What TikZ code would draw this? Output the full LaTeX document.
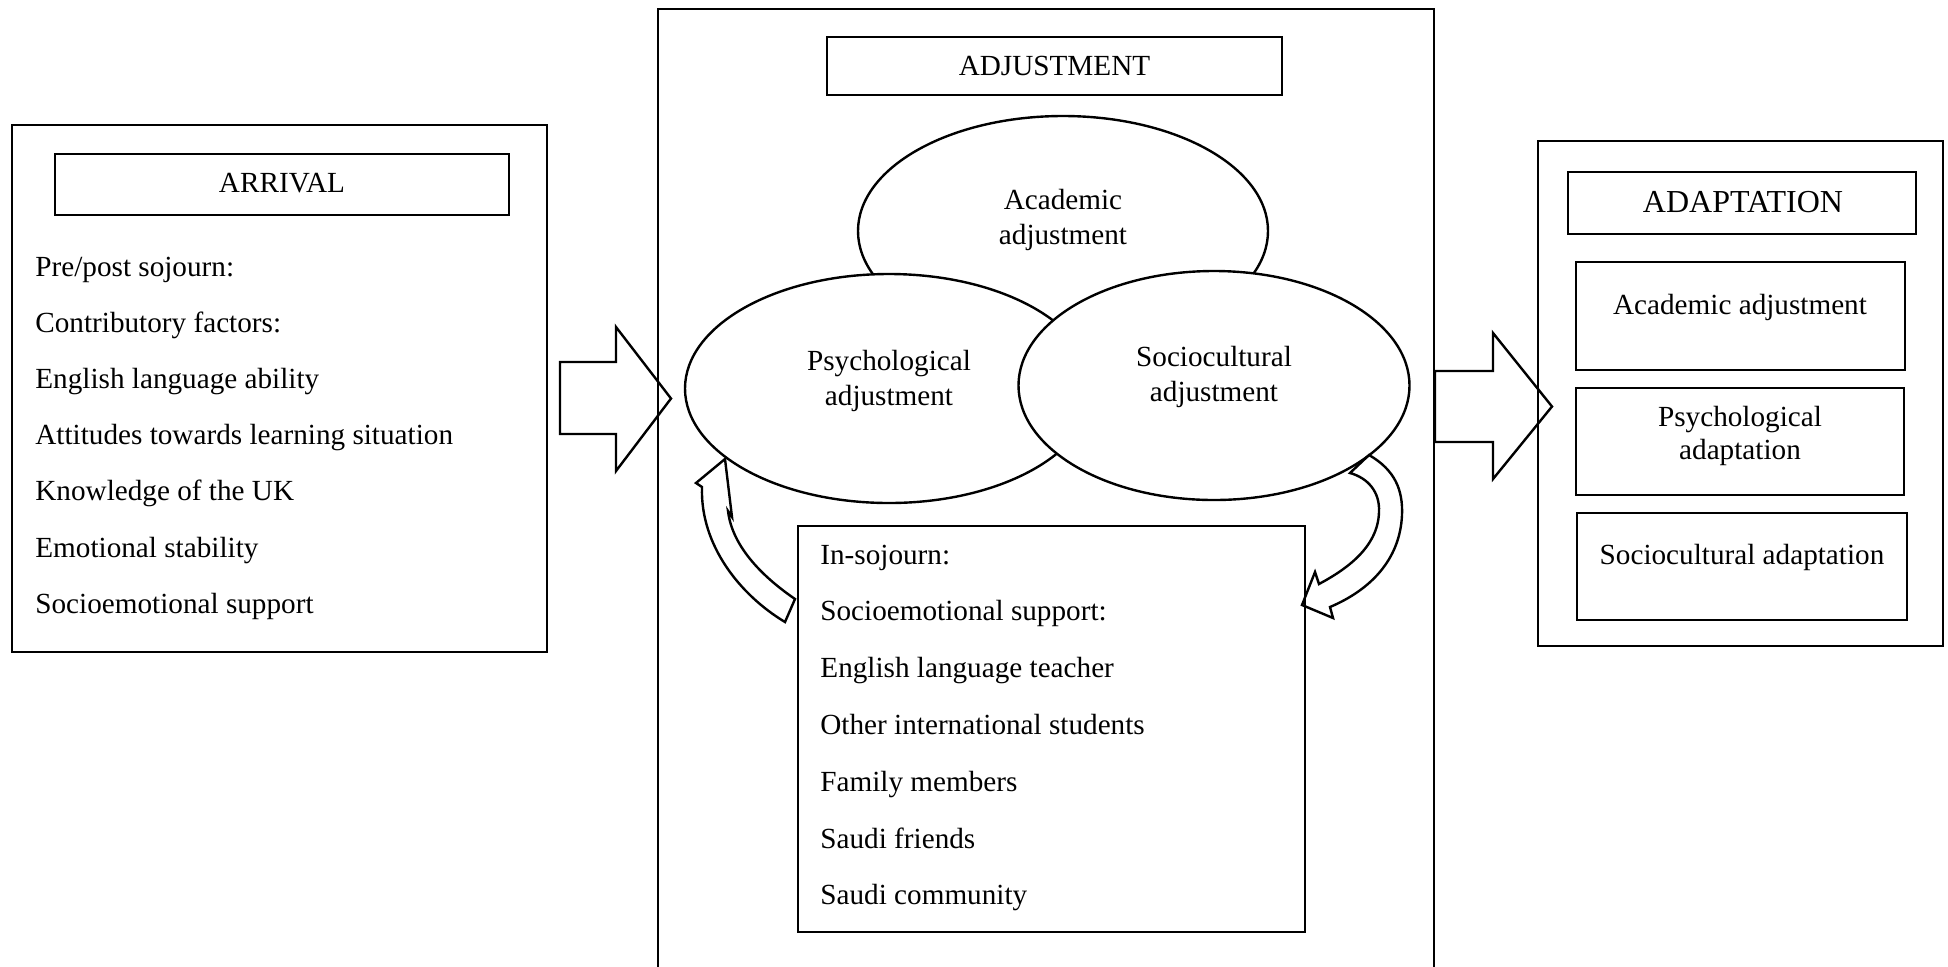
\documentclass[tikz,border=0pt]{standalone}
\usepackage{fontspec}
\setmainfont{Liberation Serif}
\usetikzlibrary{fit,shapes.geometric}
\begin{document}
\begin{tikzpicture}[x=0.5pt,y=-0.5pt,
  box/.style={draw, line width=1.2pt, inner sep=0pt},
  oval/.style={draw, fill=white, line width=1.2pt, ellipse, inner sep=0pt},
  txt/.style={font=\fontsize{14.6}{18}\selectfont, inner sep=0pt},
  item/.style={txt, anchor=base west},
  line/.style={txt, anchor=base},
  blockarrow/.style={draw, line width=1.2pt, line join=miter}
]
\useasboundingbox[fill=white] (0,0) rectangle (1948,966);
\clip (0,0) rectangle (1948,966);

% ---- Arrival panel ----
\node[box, fit={(12,125)(547,652)}] (arrival) {};
\node[box, fit={(55,154)(509,215)}] (arrivaltitle) {};
\node[line] (arrivaltxt) at (282,192) {ARRIVAL};
\foreach \t [count=\i from 0] in {Pre/post sojourn:, Contributory factors:,
    English language ability, Attitudes towards learning situation,
    Knowledge of the UK, Emotional stability, Socioemotional support}
  \node[item] (pre\i) at (35,{276+56.2*\i}) {\t};

% ---- Adjustment panel ----
\node[box, fit={(658,9)(1434,1010)}] (adjpanel) {};
\node[box, fit={(827,37)(1282,95)}] (adjtitle) {};
\node[line] (adjtxt) at (1054.5,75) {ADJUSTMENT};

\node[oval, minimum width=205pt, minimum height=115pt] (acad) at (1063,231) {};
\node[oval, minimum width=204pt, minimum height=114.5pt] (psych) at (889,388.5) {};
\node[oval, minimum width=195.5pt, minimum height=114.5pt] (socio) at (1214,385.5) {};

\node[line] (acadA) at (1063,209) {Academic};
\node[line] (acadB) at (1063,244) {adjustment};
\node[line] (psychA) at (889,370) {Psychological};
\node[line] (psychB) at (889,405) {adjustment};
\node[line] (socioA) at (1214,366) {Sociocultural};
\node[line] (socioB) at (1214,401) {adjustment};

\node[box, fit={(798,526)(1305,932)}] (insojourn) {};
\foreach \t [count=\i from 0] in {In-sojourn:, Socioemotional support:,
    English language teacher, Other international students,
    Family members, Saudi friends, Saudi community}
  \node[item] (in\i) at (820,{564+56.8*\i}) {\t};

% curved arrows between the ellipses and the in-sojourn box
\draw[blockarrow] (725,459) -- (696,483) -- (702,487)
  .. controls (700,545) and (740,595) .. (785,622)
  -- (795,599)
  .. controls (760,575) and (732,545) .. (728,511)
  -- (732,517) -- cycle;
\draw[blockarrow] (1369,455)
  .. controls (1395,470) and (1403,490) .. (1402,515)
  .. controls (1400,560) and (1370,590) .. (1330,607)
  -- (1333,618) -- (1302,605) -- (1315,572) -- (1319,584)
  .. controls (1345,570) and (1378,548) .. (1379,512)
  .. controls (1380,492) and (1368,478) .. (1350,473) -- cycle;

% ---- Adaptation panel ----
\node[box, fit={(1538,141)(1943,646)}] (adapt) {};
\node[box, fit={(1568,172)(1916,234)}] (adapttitle) {};
\node[anchor=base, inner sep=0pt, font=\fontsize{16}{19}\selectfont] (adapttxt) at (1743,212) {ADAPTATION};
\node[box, fit={(1576,262)(1905,370)}] (adaptacad) {};
\node[box, fit={(1576,388)(1904,495)}] (adaptpsych) {};
\node[box, fit={(1577,513)(1907,620)}] (adaptsocio) {};
\node[line] (aacad) at (1740,314) {Academic adjustment};
\node[line] (apsychA) at (1740,426) {Psychological};
\node[line] (apsychB) at (1740,459) {adaptation};
\node[line] (asocio) at (1742,564) {Sociocultural adaptation};

% ---- block arrows between the panels ----
\draw[blockarrow] (560,362) -- (616,362) -- (616,327) -- (671,398.5)
  -- (616,471) -- (616,434) -- (560,434) -- cycle;
\draw[blockarrow] (1435,371) -- (1493,371) -- (1493,333) -- (1552,406.5)
  -- (1493,479) -- (1493,442) -- (1435,442) -- cycle;
\end{tikzpicture}
\end{document}
